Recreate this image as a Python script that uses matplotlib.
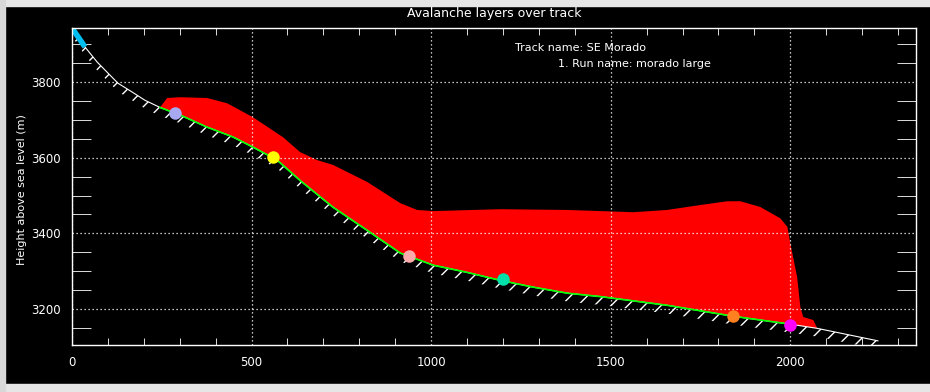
import numpy as np
import matplotlib
matplotlib.use('Agg')
import matplotlib.pyplot as plt
from matplotlib.patches import Rectangle

# track profile (distance along track, height)
track_x = [0, 36, 70, 100, 128, 167, 203, 245, 301, 376, 448, 504, 571, 635, 727,
           822, 914, 1006, 1100, 1192, 1284, 1379, 1471, 1657, 1841, 2000, 2075, 2244]
track_z = [3943, 3893, 3853, 3824, 3797, 3774, 3752, 3733, 3713, 3681, 3655, 3628,
           3594, 3540, 3469, 3408, 3348, 3316, 3297, 3276, 3258, 3242, 3233, 3210,
           3181, 3160, 3149, 3116]

# top of the avalanche layer
flow_x = [245, 265, 301, 376, 432, 504, 588, 635, 682, 727, 822, 914, 961, 1006,
          1192, 1379, 1563, 1657, 1749, 1825, 1861, 1916, 1972, 1992, 2000, 2019,
          2028, 2036, 2064, 2075]
flow_z = [3733, 3758, 3760, 3758, 3744, 3707, 3654, 3615, 3594, 3581, 3536, 3480,
          3462, 3459, 3464, 3462, 3456, 3462, 3475, 3485, 3485, 3470, 3440, 3417,
          3374, 3285, 3205, 3179, 3171, 3149]

# markers along the track
pt_x = [287, 560, 939, 1200, 1841, 2000]
pt_z = [3718, 3602, 3340, 3279, 3181, 3157]
pt_col = ['#a8a8f0', '#ffff00', '#ffaaaa', '#00e0a8', '#ff8020', '#ff00ff']

title = 'Avalanche layers over track'
track_name = 'Track name: SE Morado'
run_name = '1. Run name: morado large'

plt.rcParams['font.family'] = 'DejaVu Sans'
plt.rcParams['hatch.color'] = 'white'
plt.rcParams['hatch.linewidth'] = 1.0

tx = np.array(track_x)
tz = np.array(track_z)

fig = plt.figure(figsize=(9.3, 3.92), dpi=100, facecolor='black')
ax = fig.add_axes([72/930, 1-345/392, (916-72)/930, (345-28)/392])
ax.set_facecolor('black')

# hatch below the ground
ax.fill_between(tx, tz-22, tz, facecolor='none', edgecolor='white', hatch='//', linewidth=0)
ax.plot(tx, tz, color='white', lw=0.8)

# avalanche layer
sel = (tx > flow_x[0]) & (tx < flow_x[-1])
poly_x = np.concatenate([flow_x, tx[sel][::-1]])
poly_z = np.concatenate([flow_z, tz[sel][::-1]])
ax.fill(poly_x, poly_z, color='#ff0000', lw=0)

g = (tx >= 245) & (tx <= 2000)
ax.plot(tx[g], tz[g], color='#00ff00', lw=1.2)
ax.plot(tx[:2], tz[:2], color='#00bff0', lw=4, solid_capstyle='butt')

for x, z, c in zip(pt_x, pt_z, pt_col):
    ax.plot(x, z, 'o', color=c, markersize=9, markeredgewidth=0)

ax.set_xlim(0, 2350)
ax.set_ylim(3105, 3943)
ax.set_xticks([0, 500, 1000, 1500, 2000])
ax.set_yticks([3200, 3400, 3600, 3800])
ax.set_xticks(np.arange(100, 2350, 100), minor=True)
ax.set_yticks(np.arange(3150, 3943, 50), minor=True)
ax.grid(True, which='major', color='white', linestyle=(0, (1, 2.2)), lw=0.9)
ax.tick_params(which='major', length=0, colors='white', labelsize=8.5, pad=8)
ax.tick_params(axis='x', which='minor', direction='in', length=5, color='white',
               top=True, bottom=True)
ax.tick_params(axis='y', which='minor', direction='in', length=14, color='white',
               left=True, right=True)
for s in ax.spines.values():
    s.set_color('white')
    s.set_linewidth(1)

fig.text(494/930, 1-14/392, title, color='white', fontsize=9, ha='center', va='center')
fig.text(22/930, 1-190/392, 'Height above sea level (m)', color='white', fontsize=8,
         rotation=90, ha='center', va='center')
fig.text(515/930, 1-48/392, track_name, color='white', fontsize=8, va='center')
fig.text(558/930, 1-64/392, run_name, color='white', fontsize=8, va='center')

# window frame
fig.patches.append(Rectangle((0, 1-6/392), 1, 6/392, transform=fig.transFigure,
                             color='#e6e6e6', zorder=5))
fig.patches.append(Rectangle((0, 0), 1, 8/392, transform=fig.transFigure,
                             color='#e6e6e6', zorder=5))
fig.patches.append(Rectangle((0, 0), 5/930, 1, transform=fig.transFigure,
                             color='#d8d8d8', zorder=5))

fig.savefig('out.png', dpi=100, facecolor='black')
